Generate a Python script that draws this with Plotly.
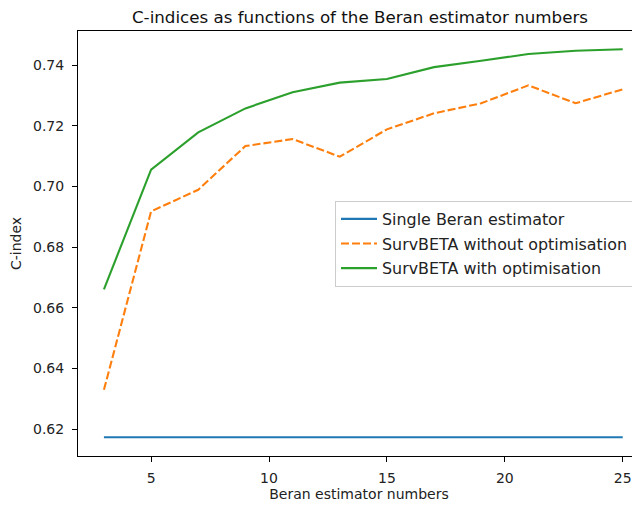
import plotly.graph_objects as go

# Data
beran_numbers = [3, 5, 7, 9, 11, 13, 15, 17, 19, 21, 23, 25]
single_beran = [0.6174, 0.6174, 0.6174, 0.6174, 0.6174, 0.6174,
                0.6174, 0.6174, 0.6174, 0.6174, 0.6174, 0.6174]
survbeta_without = [0.6330, 0.6918, 0.6989, 0.7133, 0.7156, 0.7098,
                    0.7188, 0.7241, 0.7274, 0.7333, 0.7274, 0.7320]
survbeta_with = [0.6661, 0.7055, 0.7178, 0.7257, 0.7310, 0.7342,
                 0.7354, 0.7393, 0.7414, 0.7436, 0.7447, 0.7452]
y_ticks = [0.62, 0.64, 0.66, 0.68, 0.70, 0.72, 0.74]
x_ticks = [5, 10, 15, 20, 25]

FONT = "DejaVu Sans"
W, H = 632, 498  # page has an 8px body margin
ML, MT, MB = 70, 23, 50
PW, PH = W - ML, H - MT - MB

fig = go.Figure()
fig.add_trace(go.Scatter(x=beran_numbers, y=single_beran, mode="lines",
                         name="Single Beran estimator", legendgroup="a",
                         line=dict(color="#1f77b4", width=2.1)))
fig.add_trace(go.Scatter(x=beran_numbers, y=survbeta_without, mode="lines",
                         name="SurvBETA without optimisation", legendgroup="b",
                         line=dict(color="#ff7f0e", width=2.1, dash="8px,3px")))
fig.add_trace(go.Scatter(x=beran_numbers, y=survbeta_with, mode="lines",
                         name="SurvBETA with optimisation", legendgroup="c",
                         line=dict(color="#2ca02c", width=2.1)))

fig.update_layout(
    width=W, height=H,
    margin=dict(l=ML, r=0, t=MT, b=MB, autoexpand=False),
    paper_bgcolor="white", plot_bgcolor="white",
    font=dict(family=FONT, size=14, color="#222222"),
    title=dict(text="C-indices as functions of the Beran estimator numbers",
               font=dict(family=FONT, size=16.7, color="#111111"),
               x=(352 / W), xref="container", xanchor="center",
               y=1 - 9 / H, yref="container", yanchor="middle"),
    showlegend=True,
    legend=dict(x=(327 - ML) / PW, xanchor="left", xref="paper",
                y=(MT + PH - 193) / PH, yanchor="top",
                bgcolor="rgba(255,255,255,0.8)", bordercolor="#cccccc",
                borderwidth=1, font=dict(family=FONT, size=15.9, color="#222222"),
                traceorder="grouped", tracegroupgap=1, itemwidth=36),
)

fig.update_xaxes(
    range=[1.9, 25.733], tickvals=x_ticks, ticks="outside", ticklen=5,
    tickwidth=1, tickcolor="black", showline=True, linecolor="black",
    linewidth=1.1, mirror=True, showgrid=False, zeroline=False,
    automargin=False, ticklabelstandoff=4,
    title=dict(text="Beran estimator numbers", standoff=4,
               font=dict(family=FONT, size=14, color="#222222")),
)
fig.update_yaxes(
    range=[0.6112, 0.7512], tickvals=y_ticks, tickformat=".2f",
    ticks="outside", ticklen=5, tickwidth=1, tickcolor="black",
    showline=True, linecolor="black", linewidth=1.1, mirror=False,
    showgrid=False, zeroline=False, automargin=False, ticklabelstandoff=5,
    title=dict(text="C-index", standoff=10,
               font=dict(family=FONT, size=14, color="#222222")),
)

fig.write_html("out.html")
